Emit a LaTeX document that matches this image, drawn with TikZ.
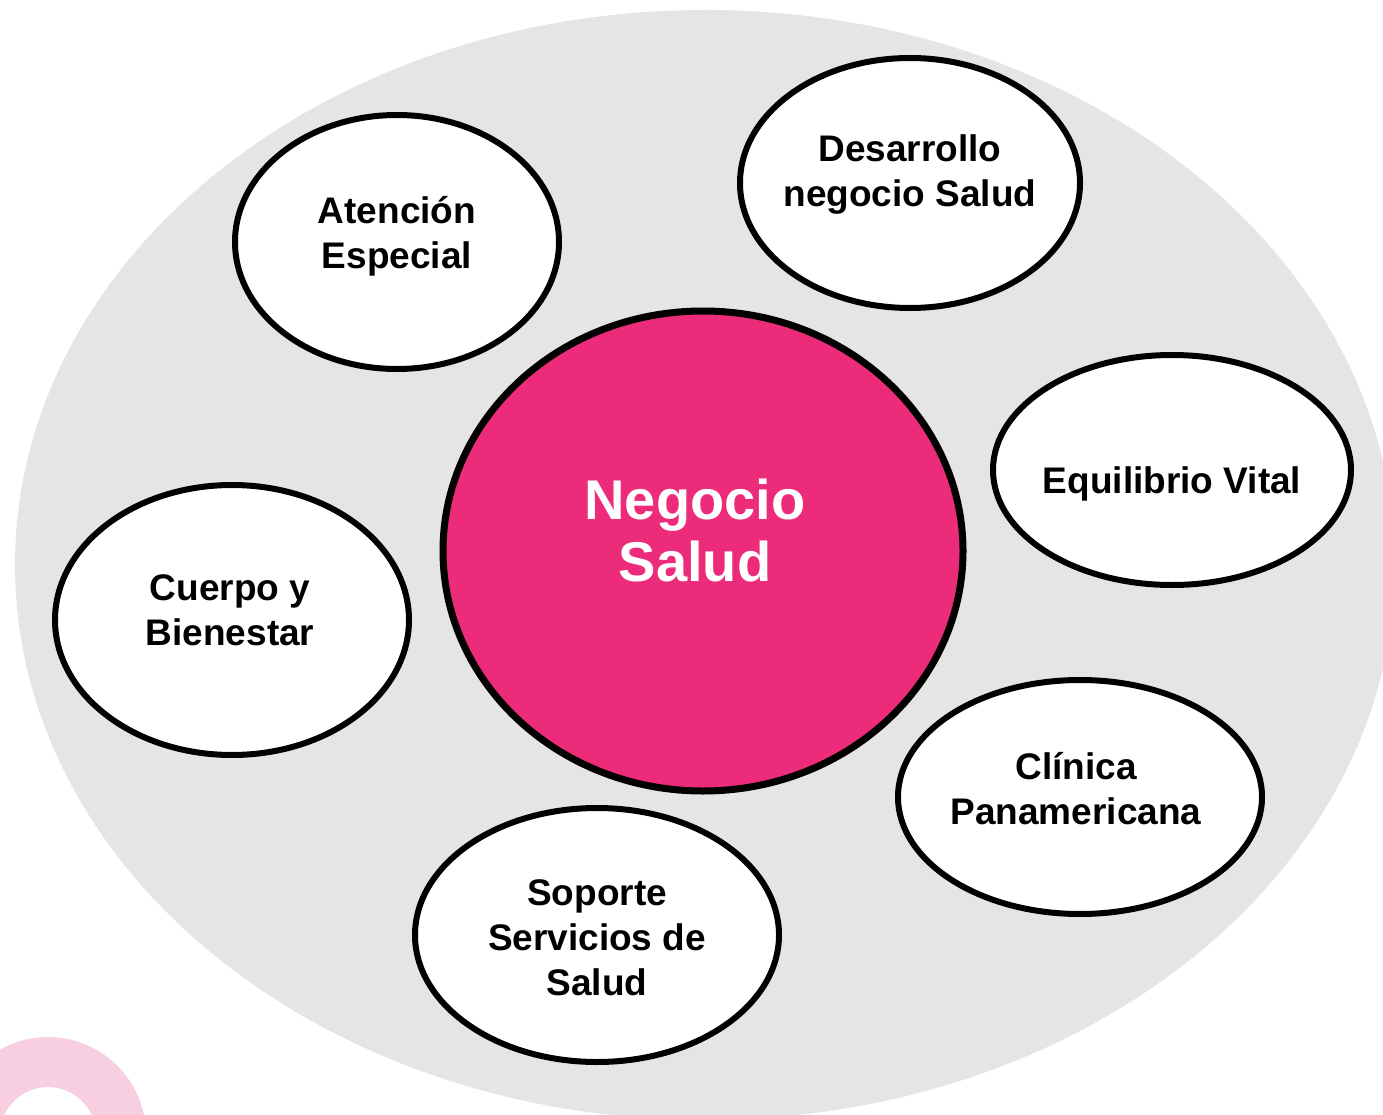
\documentclass[tikz,border=0pt]{standalone}
\usepackage{fontspec}
\setmainfont{Liberation Sans}
\usetikzlibrary{shapes.geometric}
\definecolor{bggray}{HTML}{E5E5E5}
\definecolor{hotpink}{HTML}{EC2B7A}
\definecolor{palepink}{HTML}{F8CFE1}
\tikzset{
  bubble/.style={ellipse, draw=black, line width=6pt, fill=white, inner sep=0pt},
  btext/.style={font=\bfseries\fontsize{37}{45}\selectfont, align=center, text=black, inner sep=0pt},
  core/.style={ellipse, draw=black, line width=7pt, fill=hotpink, inner sep=0pt},
  ctext/.style={font=\bfseries\fontsize{56}{62}\selectfont, align=center, text=white, inner sep=0pt}
}
\begin{document}
\begin{tikzpicture}[x=1pt,y=-1pt]
\useasboundingbox (0,0) rectangle (1383,1115);
\begin{scope}
\clip (0,0) rectangle (1383,1115);
\fill[bggray] (705,565) ellipse [x radius=690, y radius=555];
\fill[palepink, even odd rule] (48,1135) circle [radius=98] (48,1135) circle [radius=48];
\end{scope}
\node[core, minimum width=520, minimum height=480] (ns) at (703,551) {};
\node[ctext] (nst) at (695,530) {Negocio\\Salud};
\node[bubble, minimum width=324, minimum height=254] (ae) at (397,242) {};
\node[btext] (aet) at (397,236) {Atención\\Especial};
\node[bubble, minimum width=340, minimum height=250] (dn) at (910,183) {};
\node[btext] (dnt) at (910,175) {Desarrollo\\negocio Salud};
\node[bubble, minimum width=358, minimum height=230] (ev) at (1172,470) {};
\node[btext] (evt) at (1172,484) {Equilibrio Vital};
\node[bubble, minimum width=354, minimum height=270] (cb) at (232,620) {};
\node[btext] (cbt) at (230,610) {Cuerpo y\\Bienestar};
\node[bubble, minimum width=364, minimum height=234] (cp) at (1080,797) {};
\node[btext] (cpt) at (1076,789) {Clínica\\Panamericana};
\node[bubble, minimum width=364, minimum height=254] (ss) at (597,935) {};
\node[btext] (sst) at (597,938) {Soporte\\Servicios de\\Salud};
\end{tikzpicture}
\end{document}
